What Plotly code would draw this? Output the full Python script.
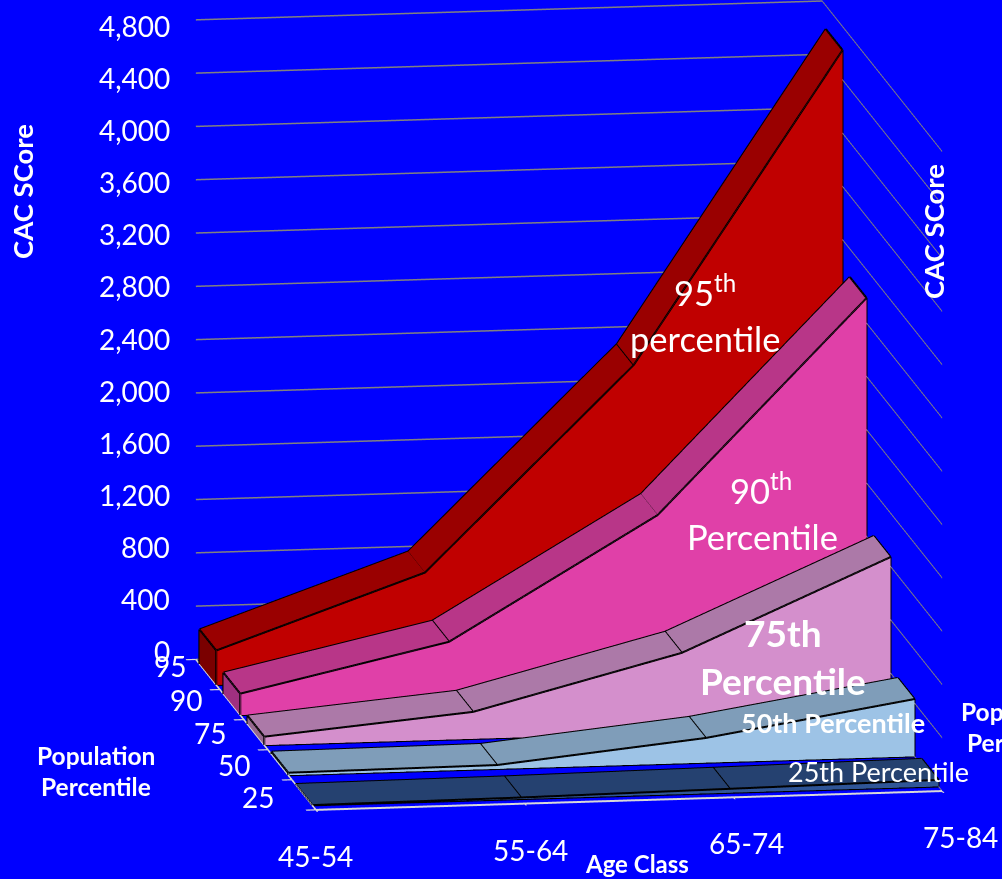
import plotly.graph_objects as go

# Categories and series
age_classes = ["45-54", "55-64", "65-74", "75-84"]
percentiles = ["25", "50", "75", "90", "95"]
cac_25 = [2, 12, 30, 50]
cac_50 = [19, 30, 186, 431]
cac_75 = [64, 203, 599, 1271]
cac_90 = [161, 503, 1408, 2989]
cac_95 = [259, 797, 2308, 4624]
z_ticks = list(range(0, 5200, 400))

series = [cac_25, cac_50, cac_75, cac_90, cac_95]
# (front face, top face, left end) colours, one row per percentile band
palette = [
    ("#2f5597", "#254170", "#1f3864"),
    ("#9dc3e6", "#7f9db9", "#6f8ca8"),
    ("#d48fcc", "#ac79a8", "#96688f"),
    ("#e040a8", "#b83688", "#a03080"),
    ("#c00000", "#9a0000", "#7a0000"),
]
HALF_DEPTH = 0.35
FONT = "Lato, Carlito, Calibri, sans-serif"


def quad_mesh(quads, color):
    xs, ys, zs, i, j, k = [], [], [], [], [], []
    for q in quads:
        n = len(xs)
        for px, py, pz in q:
            xs.append(px)
            ys.append(py)
            zs.append(pz)
        i += [n, n]
        j += [n + 1, n + 2]
        k += [n + 2, n + 3]
    return go.Mesh3d(x=xs, y=ys, z=zs, i=i, j=j, k=k, color=color, flatshading=True,
                     lighting=dict(ambient=1, diffuse=0, specular=0, roughness=1, fresnel=0),
                     hoverinfo="skip", showscale=False)


def ribbon(band, values, colors):
    yf, yb = band + 0.5 - HALF_DEPTH, band + 0.5 + HALF_DEPTH
    pos = list(range(len(values)))
    front = [[(a, yf, 0), (a, yf, values[a]), (b, yf, values[b]), (b, yf, 0)]
             for a, b in zip(pos[:-1], pos[1:])]
    top = [[(a, yf, values[a]), (a, yb, values[a]), (b, yb, values[b]), (b, yf, values[b])]
           for a, b in zip(pos[:-1], pos[1:])]
    left = [[(0, yf, 0), (0, yf, values[0]), (0, yb, values[0]), (0, yb, 0)]]
    traces = [quad_mesh(front, colors[0]), quad_mesh(top, colors[1]), quad_mesh(left, colors[2])]

    ex, ey, ez = [], [], []

    def stroke(points):
        for px, py, pz in points:
            ex.append(px)
            ey.append(py)
            ez.append(pz)
        ex.append(None)
        ey.append(None)
        ez.append(None)

    stroke([(a, yf, values[a]) for a in pos])
    stroke([(a, yb, values[a]) for a in pos])
    stroke([(a, yf, 0) for a in pos])
    for a in pos:
        stroke([(a, yf, values[a]), (a, yb, values[a])])
    stroke([(0, yf, 0), (0, yf, values[0])])
    stroke([(0, yb, 0), (0, yb, values[0])])
    stroke([(pos[-1], yf, 0), (pos[-1], yf, values[-1])])
    traces.append(go.Scatter3d(x=ex, y=ey, z=ez, mode="lines", hoverinfo="skip",
                               line=dict(color="#000000", width=4)))
    return traces


fig = go.Figure()
for band in range(len(series) - 1, -1, -1):
    fig.add_traces(ribbon(band, series[band], palette[band]))

tick_font = dict(family=FONT, size=28, color="white")
scene_notes = []
for z in z_ticks:
    scene_notes.append(dict(x=0, y=5, z=z, text=f"{z:,}", showarrow=False, xanchor="right",
                            xshift=-24, yshift=8 - 14 * z / 4800, font=tick_font))
# Depth labels sit further out towards the back of the floor
for n, (lab, dx, dy) in enumerate(zip(percentiles, [-28, -28, -28, -28, -20], [-2, 0, 2, 5, 8])):
    scene_notes.append(dict(x=0, y=n + 0.5, z=0, text=lab, showarrow=False, xanchor="right",
                            xshift=dx, yshift=dy, font=tick_font))
for n, (lab, dx) in enumerate(zip(age_classes, [0, 6, 13, 18])):
    scene_notes.append(dict(x=n, y=0, z=0, text=lab, showarrow=False, xshift=dx, yshift=-46,
                            font=tick_font))


def label(px, py, text, size, bold=False, angle=0, anchor="center"):
    shown = f"<b>{text}</b>" if bold else text
    return dict(xref="paper", yref="paper", x=px / 1002, y=1 - py / 879, text=shown, showarrow=False,
                textangle=angle, xanchor=anchor, yanchor="middle",
                font=dict(family=FONT, size=size, color="white"))


notes = [
    label(22, 192, "CAC SCore", 27.5, True, -90),
    label(933, 232, "CAC SCore", 27.5, True, -90),
    label(96, 755, "Population", 24.5, True),
    label(96, 786, "Percentile", 24.5, True),
    label(637, 863, "Age Class", 24, True),
    label(959, 711, "Population", 24.5, True, anchor="left"),
    label(965, 742, "Percentile", 24.5, True, anchor="left"),
    label(705, 290, "95<sup>th</sup>", 34.5),
    label(705, 338, "percentile", 34.5),
    label(761, 488, "90<sup>th</sup>", 34.5),
    label(762, 536, "Percentile", 34.5),
    label(783, 632, "75th", 37, True),
    label(783, 680, "Percentile", 37, True),
    label(833, 722, "50th Percentile", 27, True),
    label(878, 771, "25th Percentile", 27),
]

axis_common = dict(showbackground=False, showspikes=False, zeroline=False, showticklabels=False, title="")
fig.update_layout(
    width=1002, height=879, margin=dict(l=0, r=0, t=0, b=0), paper_bgcolor="#0000ff",
    showlegend=False, annotations=notes,
    scene=dict(
        domain=dict(x=[0, 1], y=[0, 1]), bgcolor="#0000ff",
        aspectmode="manual", aspectratio=dict(x=1.442, y=1.785, z=1.4835),
        camera=dict(eye=dict(x=-0.6052, y=-2.898, z=0.506), center=dict(x=-0.1552, y=0.0089, z=-0.076),
                    up=dict(x=0, y=0, z=1), projection=dict(type="orthographic")),
        xaxis=dict(range=[0, 3], tickvals=[0, 1, 2, 3], showgrid=False, showline=True, linecolor="#d9d9d9",
                   linewidth=4, ticks="outside", ticklen=10, tickcolor="#d9d9d9", tickwidth=3, **axis_common),
        yaxis=dict(range=[0, 5], tickvals=[0, 1, 2, 3, 4, 5], showgrid=False, showline=True, linecolor="#d9d9d9",
                   linewidth=4, ticks="outside", ticklen=10, tickcolor="#d9d9d9", tickwidth=3, **axis_common),
        zaxis=dict(range=[0, 4800], tickvals=z_ticks, showgrid=True, gridcolor="#808080", gridwidth=3,
                   showline=False, ticks="", **axis_common),
        annotations=scene_notes,
    ),
)
fig.write_html("out.html")
